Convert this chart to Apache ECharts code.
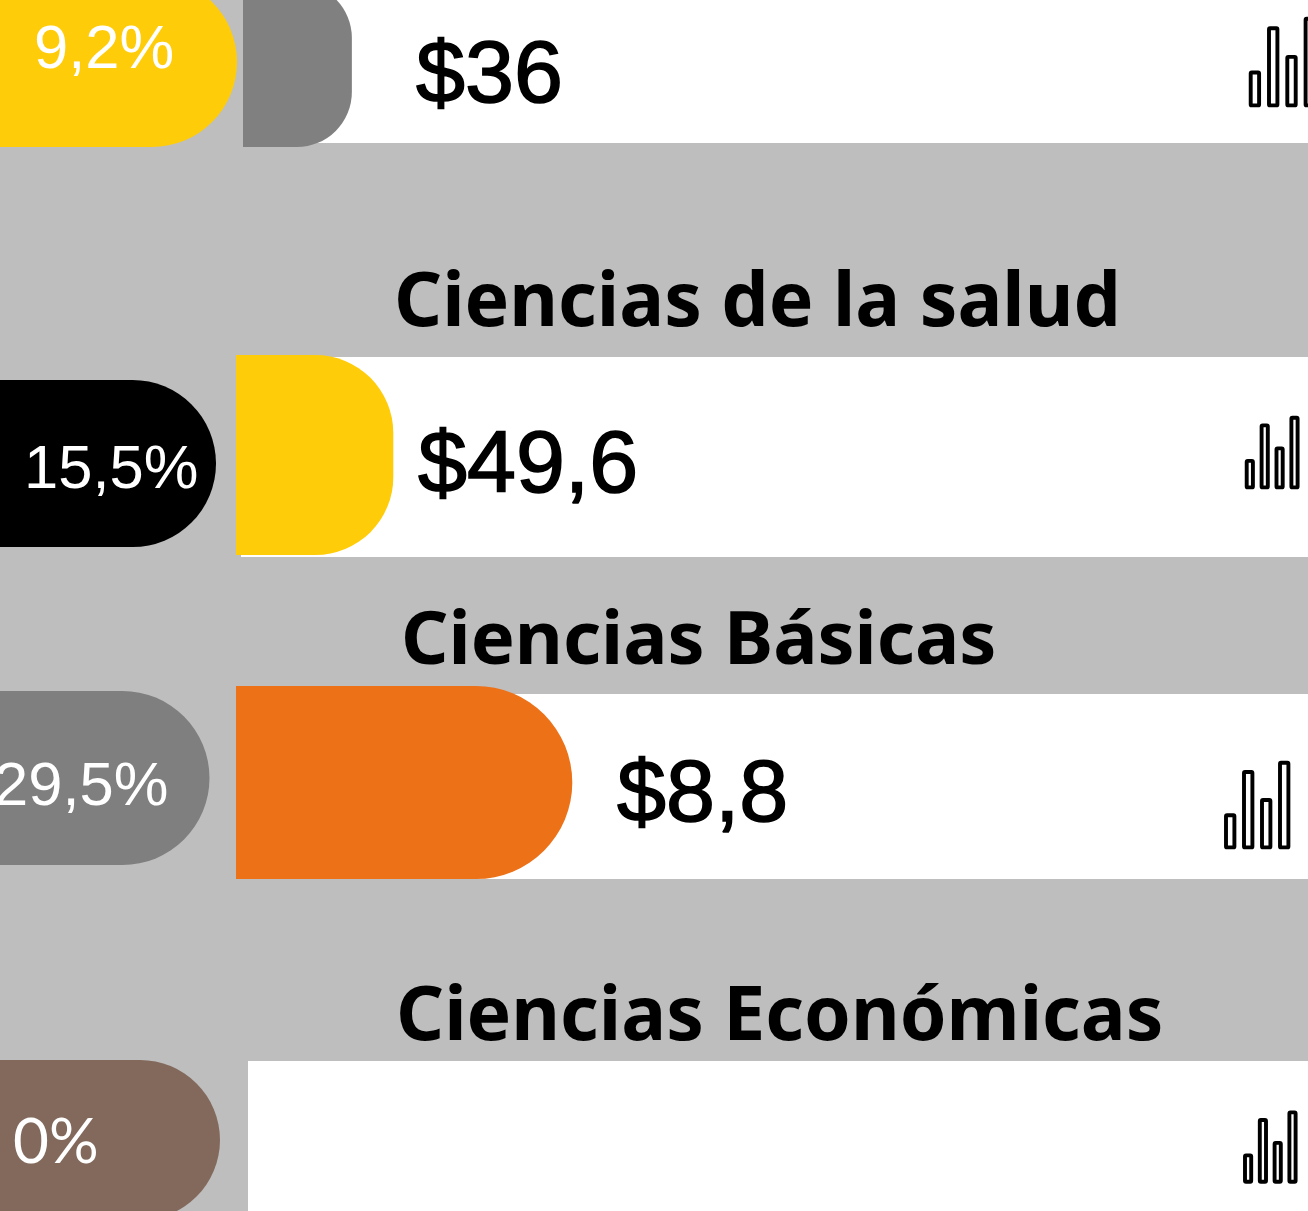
<!DOCTYPE html>
<html>
<head>
<meta charset="utf-8">
<style>html,body{margin:0;padding:0;background:#BEBEBE}#c{width:1308px;height:1211px}</style>
<script src="https://cdn.jsdelivr.net/npm/echarts@6/dist/echarts.min.js"></script>
</head>
<body>
<div id="c"></div>
<script>
// ---- data ----
const categories = ['', 'Ciencias de la salud', 'Ciencias Básicas', 'Ciencias Económicas'];
const percentLabels = ['9,2%', '15,5%', '29,5%', '0%'];
const barLengths = [9.55, 13.8, 29.5, 0];      // bar length, in percent-axis units
const amountLabels = ['$36', '$49,6', '$8,8', ''];
const iconBars = [38, 89, 56, 100];            // relative heights of the small bar icon

// ---- layout / styling, kept apart from the data ----
const W = 1308, H = 1211, PX_PER_UNIT = 11.4, BASE = 236;
const fontNum = '"Liberation Sans"', fontTitle = '"Noto Sans"';
const rows = [
  {band:[243,-10,143], pill:[-23,147,237,85,'#FFCC09'], bar:[-17,147,7,55,'#808080'], pct:[34,51,'"Liberation Sans"',61.5], amt:[416,78], icon:[1250.7,105.4,86.7,8.4,18.3]},
  {band:[241,357,557], pill:[380,547,216,83.5,'#000000'], bar:[355,555,0,78,'#FFCC09'], pct:[24,471,'"Liberation Sans"',61.5], amt:[418,468], title:[394,305,75], icon:[1246.7,487.4,69.7,6.2,14.9]},
  {band:[241,694,879], pill:[691,865,209.5,87,'#7F7F7F'], bar:[686,879,0,96.5,'#ED7117'], pct:[-6,788,'"Liberation Sans"',61.5], amt:[617,797], title:[401,643,74], icon:[1226,847.4,84.7,8.4,18]},
  {band:[248,1061,1221], pill:[1060,1220,220,80,'#82695C'], bar:null, pct:[13,1143,'Lato',62], amt:null, title:[396,1019,75], icon:[1245,1181.7,69.3,6.2,14.8]}
];
const idx = categories.map((_, i) => [i]);

const chart = echarts.init(document.getElementById('c'));
const px = (api, x, y) => api.coord([x, y]);

function series(name, xAxisIndex, renderItem, z) {
  return {type:'custom', name, xAxisIndex, yAxisIndex:0, z, data:idx, silent:true, animation:false,
          clip:false, renderItem, encode:{x:-1, y:-1}};
}

chart.setOption({
  animation:false,
  backgroundColor:'#BEBEBE',
  grid:{left:0,right:0,top:0,bottom:0,containLabel:false},
  xAxis:[
    {type:'value', min:-BASE/PX_PER_UNIT, max:(W-BASE)/PX_PER_UNIT, show:false},
    {type:'value', min:0, max:W, show:false}
  ],
  yAxis:[{type:'value', min:0, max:H, inverse:true, show:false}],
  series:[
    series('bands',1,(p,api)=>{
      const r=rows[p.dataIndex], a=px(api,r.band[0],r.band[1]), b=px(api,W,r.band[2]);
      return {type:'rect',shape:{x:a[0],y:a[1],width:b[0]-a[0],height:b[1]-a[1]},style:{fill:'#FFFFFF'}};
    },1),
    series('pills',1,(p,api)=>{
      const r=rows[p.dataIndex], q=r.pill, a=px(api,0,q[0]), b=px(api,q[2],q[1]);
      return {type:'group',children:[
        {type:'rect',shape:{x:a[0],y:a[1],width:b[0]-a[0],height:b[1]-a[1],r:[0,q[3],q[3],0]},style:{fill:q[4]}},
        {type:'text',z2:5,style:{x:r.pct[0],y:r.pct[1],text:percentLabels[p.dataIndex],fill:'#FFFFFF',
          font:`${r.pct[3]}px ${r.pct[2]}`,align:'left',verticalAlign:'middle'}}
      ]};
    },2),
    series('bars',0,(p,api)=>{
      const i=p.dataIndex, r=rows[i];
      if(!r.bar||!barLengths[i]) return null;
      const q=r.bar, start=q[2]/PX_PER_UNIT;
      const a=px(api,start,q[0]), b=px(api,start+barLengths[i],q[1]);
      return {type:'rect',shape:{x:a[0],y:a[1],width:b[0]-a[0],height:b[1]-a[1],r:[0,q[3],q[3],0]},style:{fill:q[4]}};
    },3),
    series('amounts',1,(p,api)=>{
      const i=p.dataIndex, r=rows[i];
      if(!r.amt) return null;
      return {type:'text',style:{x:r.amt[0],y:r.amt[1],text:amountLabels[i],fill:'#000000',stroke:'#000000',lineWidth:1.6,
        font:`88px ${fontNum}`,align:'left',verticalAlign:'middle'}};
    },4),
    series('titles',1,(p,api)=>{
      const i=p.dataIndex, r=rows[i];
      if(!r.title) return null;
      return {type:'text',style:{x:r.title[0],y:r.title[1],text:categories[i],fill:'#000000',
        font:`bold ${r.title[2]}px ${fontTitle}`,align:'left',verticalAlign:'middle'}};
    },4),
    series('icons',1,(p,api)=>{
      const ic=rows[p.dataIndex].icon, [x0,bottom,hMax,w,step]=ic;
      return {type:'group',children:iconBars.map((v,k)=>{
        const h=hMax*v/100;
        return {type:'rect',shape:{x:x0+k*step,y:bottom-h,width:w,height:h,r:1},
          style:{fill:'#FFFFFF',stroke:'#000000',lineWidth:3.9}};
      })};
    },4)
  ]
});
</script>
</body>
</html>
